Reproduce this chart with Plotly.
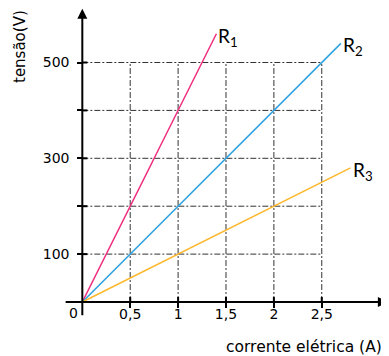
import plotly.graph_objects as go

# Data
r1_current = [0, 1.4]
r1_voltage = [0, 560]
r2_current = [0, 2.7]
r2_voltage = [0, 540]
r3_current = [0, 2.8]
r3_voltage = [0, 280]
series_names = ["R<sub>1</sub>", "R<sub>2</sub>", "R<sub>3</sub>"]
x_tickvals = [0.5, 1, 1.5, 2, 2.5]
x_ticktext = ["0,5", "1", "1,5", "2", "2,5"]
y_tickvals = [100, 200, 300, 400, 500]
y_ticktext = ["100", "", "300", "", "500"]

colors = ["#EE2A7F", "#2EA2E2", "#FDB82C"]
FONT = "DejaVu Sans"

W, H = 381, 348   # page has 8px body margin
XR = [-0.776, 3.202]
YR = [-112.7, 613.8]
xpos = (0 - XR[0]) / (XR[1] - XR[0])
ypos = (0 - YR[0]) / (YR[1] - YR[0])

fig = go.Figure()
series = [(r1_current, r1_voltage), (r2_current, r2_voltage), (r3_current, r3_voltage)]
for (xs, ys), c, name in zip(series, colors, series_names):
    fig.add_trace(go.Scatter(x=xs, y=ys, mode="lines", line=dict(color=c, width=1.5),
                             showlegend=False, hoverinfo="skip", cliponaxis=False))

shapes = []
grid_line = dict(color="#333333", width=1, dash="6px,2px,2px,2px")
for xv in x_tickvals:
    shapes.append(dict(type="line", xref="x", yref="y", x0=xv, x1=xv, y0=0, y1=max(y_tickvals),
                       line=grid_line, layer="below"))
for yv in y_tickvals:
    shapes.append(dict(type="line", xref="x", yref="y", x0=0, x1=max(x_tickvals), y0=yv, y1=yv,
                       line=grid_line, layer="below"))
# inner halves of tick marks
for xv in x_tickvals:
    shapes.append(dict(type="line", xref="x", yref="paper", x0=xv, x1=xv,
                       y0=ypos, y1=ypos + 5 / H, line=dict(color="black", width=2)))
for yv in y_tickvals:
    shapes.append(dict(type="line", xref="paper", yref="y", x0=xpos, x1=xpos + 5 / W,
                       y0=yv, y1=yv, line=dict(color="black", width=2)))

annotations = []
# axes with arrows
annotations.append(dict(x=0, y=612, ax=0, ay=-31, xref="x", yref="y", axref="x", ayref="y",
                        text="", showarrow=True, arrowhead=2, arrowsize=1, arrowwidth=2,
                        arrowcolor="black"))
annotations.append(dict(x=3.19, y=0, ax=-0.19, ay=0, xref="x", yref="y", axref="x", ayref="y",
                        text="", showarrow=True, arrowhead=2, arrowsize=1, arrowwidth=2,
                        arrowcolor="black"))
# series labels
for (xs, ys), name in zip(series, series_names):
    annotations.append(dict(x=xs[-1], y=ys[-1], xref="x", yref="y", text=name, showarrow=False,
                            xanchor="left", yanchor="middle", xshift=0, yshift=-3,
                            font=dict(family="Lato", size=19, color="black")))
annotations.append(dict(x=-0.097, y=-23, xref="x", yref="y", text="0", showarrow=False,
                        font=dict(family=FONT, size=14, color="black")))
annotations.append(dict(x=12 / W, y=1 - 39 / H, xref="paper", yref="paper", text="tensão(V)",
                        xanchor="center", yanchor="middle",
                        textangle=-90, showarrow=False,
                        font=dict(family=FONT, size=15, color="black")))
annotations.append(dict(x=296 / W, y=1 - 339 / H, xref="paper", yref="paper",
                        xanchor="center", yanchor="middle",
                        text="corrente elétrica (A)", showarrow=False,
                        font=dict(family=FONT, size=15.5, color="black")))

fig.update_layout(
    width=W, height=H,
    margin=dict(l=0, r=0, t=0, b=0),
    paper_bgcolor="white", plot_bgcolor="white",
    shapes=shapes, annotations=annotations,
    xaxis=dict(range=XR, anchor="free", position=ypos, showline=False, showgrid=False,
               zeroline=False, tickvals=x_tickvals, ticktext=x_ticktext, ticks="outside",
               ticklen=5, tickwidth=2, tickcolor="black", automargin=False,
               ticklabelstandoff=-6,
               tickfont=dict(family=FONT, size=14, color="black")),
    yaxis=dict(range=YR, anchor="free", position=xpos, showline=False, showgrid=False,
               zeroline=False, tickvals=y_tickvals, ticktext=y_ticktext, ticks="outside",
               ticklen=5, tickwidth=2, tickcolor="black", automargin=False,
               ticklabelstandoff=5,
               tickfont=dict(family=FONT, size=14, color="black")),
)

fig.write_html("out.html")
